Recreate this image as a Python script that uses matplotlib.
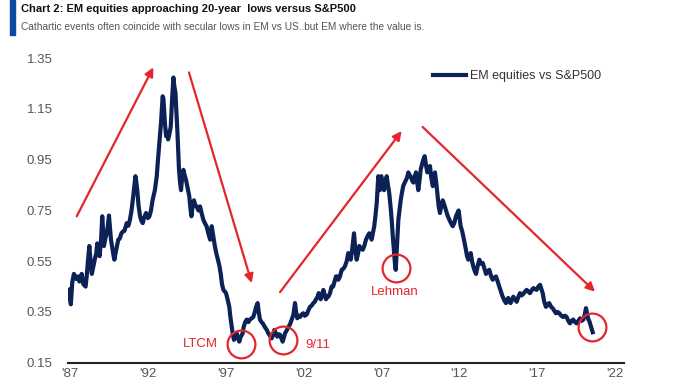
import matplotlib.pyplot as plt
from matplotlib.patches import Rectangle

# EM equities vs S&P500 (ratio)
years = [
    1986.95, 1987.0, 1987.05, 1987.15, 1987.25, 1987.4, 1987.5, 1987.6, 1987.75, 1987.85,
    1988.0, 1988.07, 1988.15, 1988.24, 1988.32, 1988.4, 1988.5, 1988.6, 1988.68, 1988.75,
    1988.82, 1988.9, 1989.0, 1989.07, 1989.13, 1989.18, 1989.27, 1989.36, 1989.43, 1989.5,
    1989.57, 1989.63, 1989.72, 1989.8, 1989.85, 1989.95, 1990.1, 1990.2, 1990.3, 1990.42,
    1990.5, 1990.64, 1990.75, 1990.85, 1990.95, 1991.03, 1991.12, 1991.2, 1991.26, 1991.32,
    1991.4, 1991.5, 1991.58, 1991.67, 1991.75, 1991.88, 1992.0, 1992.1, 1992.2, 1992.3,
    1992.45, 1992.57, 1992.65, 1992.74, 1992.85, 1992.95, 1993.0, 1993.04, 1993.1, 1993.17,
    1993.23, 1993.3, 1993.38, 1993.47, 1993.55, 1993.64, 1993.7, 1993.77, 1993.84, 1993.9,
    1993.95, 1994.0, 1994.07, 1994.13, 1994.2, 1994.28, 1994.36, 1994.45, 1994.55, 1994.66,
    1994.73, 1994.8, 1994.88, 1994.96, 1995.05, 1995.13, 1995.25, 1995.35, 1995.45, 1995.56,
    1995.66, 1995.77, 1995.88, 1996.0, 1996.1, 1996.2, 1996.3, 1996.4, 1996.5, 1996.6,
    1996.68, 1996.76, 1996.85, 1996.95, 1997.02, 1997.12, 1997.23, 1997.3, 1997.39, 1997.46,
    1997.53, 1997.62, 1997.7, 1997.78, 1997.87, 1997.95, 1998.09, 1998.15, 1998.25, 1998.35,
    1998.46, 1998.56, 1998.66, 1998.77, 1998.87, 1998.95, 1999.05, 1999.12, 1999.2, 1999.3,
    1999.38, 1999.52, 1999.63, 1999.74, 1999.85, 1999.95, 2000.05, 2000.12, 2000.22, 2000.31,
    2000.4, 2000.49, 2000.58, 2000.66, 2000.74, 2000.81, 2000.9, 2001.02, 2001.12, 2001.24,
    2001.35, 2001.45, 2001.52, 2001.6, 2001.68, 2001.77, 2001.88, 2001.98, 2002.08, 2002.2,
    2002.3, 2002.41, 2002.52, 2002.63, 2002.72, 2002.8, 2002.9, 2002.97, 2003.05, 2003.1,
    2003.2, 2003.27, 2003.35, 2003.44, 2003.52, 2003.59, 2003.7, 2003.8, 2003.9, 2004.02,
    2004.08, 2004.17, 2004.23, 2004.34, 2004.45, 2004.55, 2004.66, 2004.77, 2004.87, 2004.95,
    2005.03, 2005.13, 2005.24, 2005.32, 2005.41, 2005.5, 2005.58, 2005.7, 2005.8, 2005.9,
    2006.01, 2006.12, 2006.22, 2006.3, 2006.37, 2006.45, 2006.54, 2006.62, 2006.7, 2006.8,
    2006.85, 2006.9, 2007.0, 2007.08, 2007.17, 2007.25, 2007.34, 2007.42, 2007.5, 2007.58,
    2007.66, 2007.73, 2007.8, 2007.87, 2007.92, 2007.96, 2008.0, 2008.09, 2008.16, 2008.24,
    2008.32, 2008.4, 2008.5, 2008.58, 2008.65, 2008.73, 2008.8, 2008.88, 2008.96, 2009.05,
    2009.13, 2009.22, 2009.3, 2009.37, 2009.45, 2009.52, 2009.6, 2009.69, 2009.78, 2009.86,
    2009.95, 2010.04, 2010.12, 2010.2, 2010.3, 2010.37, 2010.44, 2010.52, 2010.59, 2010.67,
    2010.76, 2010.85, 2010.94, 2011.05, 2011.15, 2011.25, 2011.36, 2011.47, 2011.58, 2011.68,
    2011.79, 2011.88, 2011.96, 2012.02, 2012.09, 2012.18, 2012.26, 2012.35, 2012.43, 2012.5,
    2012.58, 2012.66, 2012.74, 2012.82, 2012.9, 2013.0, 2013.08, 2013.18, 2013.29, 2013.4,
    2013.51, 2013.62, 2013.72, 2013.83, 2013.93, 2014.05, 2014.15, 2014.25, 2014.36, 2014.47,
    2014.57, 2014.68, 2014.79, 2014.9, 2015.0, 2015.08, 2015.15, 2015.22, 2015.3, 2015.4,
    2015.47, 2015.58, 2015.69, 2015.8, 2015.9, 2016.0, 2016.1, 2016.22, 2016.33, 2016.44,
    2016.54, 2016.65, 2016.76, 2016.87, 2016.97, 2017.08, 2017.19, 2017.28, 2017.36, 2017.46,
    2017.57, 2017.68, 2017.78, 2017.9, 2018.0, 2018.1, 2018.21, 2018.32, 2018.43, 2018.55,
    2018.68, 2018.8, 2018.9, 2019.0, 2019.11, 2019.22, 2019.32, 2019.43, 2019.54, 2019.65,
    2019.76, 2019.87, 2019.97, 2020.06, 2020.14, 2020.22, 2020.29, 2020.35, 2020.4, 2020.47,
    2020.52, 2020.57,
]
ratio = [
    0.40, 0.44, 0.38, 0.47, 0.50, 0.48, 0.49, 0.47, 0.50, 0.46,
    0.45, 0.49, 0.55, 0.61, 0.55, 0.50, 0.53, 0.56, 0.58, 0.62,
    0.60, 0.57, 0.64, 0.727, 0.66, 0.61, 0.64, 0.66, 0.69, 0.73,
    0.68, 0.635, 0.60, 0.57, 0.556, 0.59, 0.635, 0.64, 0.66, 0.668,
    0.67, 0.70, 0.69, 0.714, 0.75, 0.79, 0.84, 0.885, 0.86, 0.83,
    0.77, 0.727, 0.71, 0.70, 0.72, 0.74, 0.72, 0.727, 0.75, 0.79,
    0.83, 0.885, 0.95, 1.017, 1.10, 1.20, 1.19, 1.15, 1.09, 1.043,
    1.06, 1.03, 1.05, 1.08, 1.18, 1.274, 1.24, 1.215, 1.13, 1.057,
    0.98, 0.91, 0.86, 0.83, 0.88, 0.91, 0.89, 0.87, 0.84, 0.806,
    0.76, 0.727, 0.77, 0.79, 0.77, 0.766, 0.75, 0.766, 0.74, 0.714,
    0.70, 0.688, 0.66, 0.635, 0.688, 0.65, 0.61, 0.58, 0.556, 0.53,
    0.50, 0.46, 0.437, 0.43, 0.424, 0.40, 0.37, 0.33, 0.29, 0.26,
    0.24, 0.25, 0.266, 0.25, 0.233, 0.25, 0.266, 0.29, 0.31, 0.32,
    0.31, 0.32, 0.325, 0.33, 0.35, 0.37, 0.385, 0.35, 0.32, 0.31,
    0.305, 0.29, 0.28, 0.266, 0.255, 0.246, 0.26, 0.279, 0.265, 0.253,
    0.262, 0.26, 0.245, 0.233, 0.25, 0.266, 0.275, 0.29, 0.30, 0.32,
    0.34, 0.385, 0.35, 0.325, 0.335, 0.33, 0.34, 0.345, 0.335, 0.34,
    0.355, 0.37, 0.375, 0.385, 0.39, 0.40, 0.41, 0.424, 0.41, 0.40,
    0.42, 0.437, 0.42, 0.40, 0.41, 0.41, 0.424, 0.45, 0.45, 0.477,
    0.49, 0.49, 0.477, 0.49, 0.516, 0.52, 0.53, 0.55, 0.582, 0.57,
    0.556, 0.60, 0.66, 0.60, 0.556, 0.58, 0.61, 0.60, 0.595, 0.61,
    0.635, 0.65, 0.66, 0.65, 0.635, 0.66, 0.688, 0.73, 0.78, 0.885,
    0.86, 0.83, 0.885, 0.86, 0.83, 0.86, 0.885, 0.85, 0.82, 0.77,
    0.714, 0.65, 0.595, 0.54, 0.516, 0.56, 0.61, 0.714, 0.75, 0.79,
    0.82, 0.846, 0.86, 0.87, 0.88, 0.90, 0.89, 0.885, 0.87, 0.86,
    0.88, 0.90, 0.86, 0.83, 0.87, 0.91, 0.93, 0.95, 0.964, 0.93,
    0.90, 0.91, 0.925, 0.88, 0.846, 0.87, 0.90, 0.86, 0.82, 0.77,
    0.74, 0.77, 0.79, 0.77, 0.75, 0.73, 0.714, 0.70, 0.688, 0.70,
    0.727, 0.74, 0.75, 0.72, 0.688, 0.67, 0.648, 0.62, 0.595, 0.57,
    0.556, 0.57, 0.582, 0.55, 0.53, 0.51, 0.50, 0.53, 0.556, 0.54,
    0.543, 0.52, 0.50, 0.51, 0.516, 0.49, 0.477, 0.485, 0.49, 0.47,
    0.45, 0.43, 0.41, 0.395, 0.385, 0.40, 0.405, 0.39, 0.385, 0.40,
    0.41, 0.40, 0.39, 0.41, 0.424, 0.415, 0.42, 0.43, 0.437, 0.43,
    0.424, 0.435, 0.444, 0.44, 0.437, 0.45, 0.457, 0.44, 0.424, 0.39,
    0.37, 0.38, 0.385, 0.37, 0.365, 0.355, 0.345, 0.35, 0.345, 0.335,
    0.33, 0.335, 0.33, 0.315, 0.305, 0.315, 0.32, 0.31, 0.305, 0.315,
    0.325, 0.315, 0.32, 0.34, 0.365, 0.34, 0.32, 0.315, 0.305, 0.29,
    0.28, 0.27,
]

yticks = [0.15, 0.35, 0.55, 0.75, 0.95, 1.15, 1.35]
xticks = [1987, 1992, 1997, 2002, 2007, 2012, 2017, 2022]
xticklabels = ["'87", "'92", "'97", "'02", "'07", "'12", "'17", "'22"]

# red trend arrows: (tail, head)
arrows = [
    ((1987.43, 0.727), (1992.35, 1.314)),
    ((1994.64, 1.294), (1998.67, 0.464)),
    ((2000.49, 0.428), (2008.30, 1.063)),
    ((2009.65, 1.079), (2020.72, 0.430)),
]
# circled events
circles = [(1997.98, 0.224), (2000.70, 0.240), (2007.92, 0.523), (2020.51, 0.291)]
event_labels = ['LTCM', '9/11', 'Lehman']
event_pos = [(1995.35, 0.224), (2002.95, 0.220), (2007.87, 0.428)]

navy = '#0c2257'
red = '#e3262b'
grey = '#555555'

plt.rcParams['font.family'] = ['Liberation Sans', 'DejaVu Sans']

fig = plt.figure(figsize=(6.8, 3.83), dpi=100)
ax = fig.add_axes([0.1, 0.053, 0.8176, 0.795])

ax.plot(years, ratio, color=navy, lw=3.0, label='EM equities vs S&P500', zorder=3)

for (tail, head) in arrows:
    ax.annotate('', xy=head, xytext=tail,
                arrowprops=dict(arrowstyle='-|>', color=red, lw=1.6,
                                mutation_scale=13, shrinkA=0, shrinkB=0))

cx = [c[0] for c in circles]
cy = [c[1] for c in circles]
ax.plot(cx, cy, 'o', ms=20, mfc='none', mec=red, mew=1.6, zorder=4)

for lab, (x, y) in zip(event_labels, event_pos):
    ax.text(x, y, lab, color=red, fontsize=9.5, ha='center', va='center')

ax.set_xlim(1986.87, 2022.58)
ax.set_ylim(0.15, 1.35)
ax.set_yticks(yticks)
ax.set_yticklabels([f'{v:.2f}' for v in yticks])
ax.set_xticks(xticks)
ax.set_xticklabels(xticklabels)
ax.tick_params(length=0, labelsize=9.5, colors=grey)
ax.tick_params(axis='x', pad=4)
ax.tick_params(axis='y', pad=11)

for s in ['top', 'right', 'left']:
    ax.spines[s].set_visible(False)
ax.spines['bottom'].set_color('#222222')
ax.spines['bottom'].set_linewidth(1.5)

ax.legend(loc='center left', bbox_to_anchor=(0.656, 0.942), frameon=False,
          borderpad=0, borderaxespad=0, handlelength=2.7, handletextpad=0.3,
          fontsize=9, labelcolor='#333333')

fig.patches.append(Rectangle((10 / 680, 1 - 35 / 383), 5 / 680, 35 / 383,
                             transform=fig.transFigure, color='#0a4aa0'))
fig.text(21 / 680, 1 - 9.5 / 383, 'Chart 2: EM equities approaching 20-year  lows versus S&P500',
         fontsize=8, fontweight='bold', color='#111111', va='center')
fig.text(21 / 680, 1 - 26.5 / 383,
         'Cathartic events often coincide with secular lows in EM vs US..but EM where the value is.',
         fontsize=7.3, color=grey, va='center')

fig.savefig('out.png', dpi=100)
